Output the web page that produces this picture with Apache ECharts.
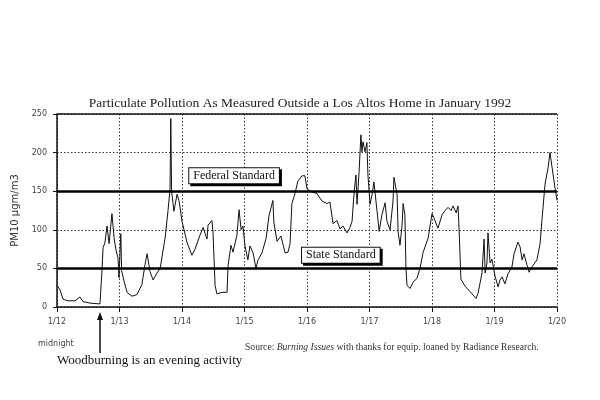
<!DOCTYPE html>
<html>
<head>
<meta charset="utf-8">
<script src="https://cdn.jsdelivr.net/npm/echarts@6/dist/echarts.min.js"></script>
<style>html,body{margin:0;padding:0;background:#fff}#c{width:600px;height:400px}</style>
</head>
<body>
<div id="c"></div>
<script>
// Hours since midnight 1/12
const hours = [0,1.2,2.3,4.2,6.9,8.8,10,12.7,16.5,17.2,17.7,18.4,19.2,20,21.1,21.9,22.7,23.4,23.8,24.5,24.8,25.7,26.9,28.8,30.7,32.6,33.8,34.6,35.7,36.9,38.4,39.6,41.5,42.6,43.4,43.7,44.0,44.9,46.1,46.9,
48,49.9,51.8,53,54.9,56.1,57.6,58,59.5,59.9,60.7,61.4,63.4,65.3,65.7,66.8,67.6,69.1,69.9,70.7,71.4,72.2,73.3,74.1,75.3,76.4,77.2,78.7,80.3,81.4,82.9,83.3,84.5,86,87.6,88.7,89.5,90.2,91.4,92.5,94.1,
95.2,96,97.9,99.8,101.8,103.7,104.8,106,107.5,108.7,109.8,111.4,112.5,113.3,114.1,114.8,115.2,116,116.7,117.1,117.5,118.3,119,119.4,120.2,121,121.7,122.9,123.7,124.8,126,126.7,127.9,129,129.4,130.6,131,131.7,132.5,132.9,133.6,134,134.4,135.6,136.7,138.2,139.4,140.6,142.5,
144,144.8,146.3,147.8,149,150.2,151.3,152.1,153.3,154,154.4,155.1,156.7,158.6,160.9,161.7,163.2,164,164.4,165.1,165.5,166.3,167,168.2,169.4,170.1,170.9,172,173.2,174.7,175.5,177,177.8,178.6,179.3,180.5,181.3,182.4,184.3,185.5,186.3,187.4,188.6,189.3,190.1,191.2,192];
// PM10 readings (ugm/m3)
const pm10 = [28,22,10,8,8,13,7,5,4,43,77,83,105,82,121,90,73,64,38,95,47,34,19,14,16,29,55,69,46,35,44,50,89,124,153,244,150,124,146,137,
111,84,67,75,93,103,88,106,112,97,28,17,19,19,54,80,71,93,126,100,105,79,61,79,70,50,61,70,89,118,138,109,85,92,70,71,82,134,147,163,170,
170,153,149,147,137,134,136,108,112,101,105,96,103,111,149,171,133,175,223,201,214,201,213,171,133,146,162,124,98,120,135,111,100,136,168,145,97,80,106,134,119,50,28,24,32,37,50,71,89,
121,115,102,119,125,129,125,131,122,131,101,36,27,20,11,18,44,88,44,57,96,57,62,40,26,35,39,30,43,52,69,84,78,61,69,54,45,52,61,82,116,159,181,200,181,155,138];
const dayLabels = ['1/12','1/13','1/14','1/15','1/16','1/17','1/18','1/19','1/20'];
const yTicks = [0,50,100,150,200,250];
const federalStandard = 150;
const stateStandard = 50;

const serif = '"Liberation Serif","DejaVu Serif",serif';
const chart = echarts.init(document.getElementById('c'));
chart.setOption({
  backgroundColor: '#fff',
  animation: false,
  title: {
    text: 'Particulate Pollution As Measured Outside a Los Altos Home in January 1992',
    left: 'center', top: 91,
    textStyle: {fontFamily: serif, fontWeight: 'normal', fontSize: 13.5, color: '#222'}
  },
  grid: {left: 57, top: 114, width: 500, height: 193},
  xAxis: {
    type: 'value', min: 0, max: 192, interval: 24,
    axisLine: {lineStyle: {color: '#111', width: 1.5}},
    axisTick: {show: true, length: 5, lineStyle: {color: '#111'}},
    axisLabel: {
      formatter: v => dayLabels[Math.round(v / 24)] || '',
      fontFamily: 'DejaVu Sans', fontSize: 8, color: '#444', margin: 11
    },
    splitLine: {show: true, lineStyle: {type: [1.5, 2], color: '#333', width: 1}}
  },
  yAxis: {
    type: 'value', min: 0, max: 250, interval: 50,
    name: 'PM10 μgm/m3', nameLocation: 'middle', nameGap: 35,
    nameTextStyle: {fontFamily: 'DejaVu Sans', fontSize: 10, color: '#333'},
    axisLine: {show: true, lineStyle: {color: '#111', width: 1.5}},
    axisTick: {show: true, length: 4, lineStyle: {color: '#111'}},
    axisLabel: {
      formatter: v => yTicks.includes(v) ? String(v) : '',
      fontFamily: 'DejaVu Sans', fontSize: 8, color: '#444', margin: 10
    },
    splitLine: {show: true, lineStyle: {type: [1.5, 2], color: '#333', width: 1}}
  },
  series: [{
    type: 'line',
    data: hours.map((h, i) => [h, pm10[i]]),
    symbol: 'none',
    lineStyle: {color: '#111', width: 1},
    markLine: {
      silent: true, symbol: 'none', label: {show: false},
      data: [
        {yAxis: federalStandard, lineStyle: {color: '#000', width: 2.5, type: 'solid'}},
        {yAxis: stateStandard, lineStyle: {color: '#000', width: 2.5, type: 'solid'}},
        {yAxis: 250, lineStyle: {color: '#111', width: 1.5, type: 'solid'}}
      ]
    },
    markPoint: {
      symbol: 'rect', symbolSize: 0, silent: true,
      label: {
        show: true, fontFamily: serif, fontSize: 12, color: '#111',
        backgroundColor: '#fff', borderColor: '#111', borderWidth: 1,
        padding: [2, 4, 1, 4], shadowColor: '#000', shadowOffsetX: 2, shadowOffsetY: 2, shadowBlur: 0
      },
      data: [
        {coord: [68, 170], value: 'Federal Standard', label: {formatter: 'Federal Standard'}},
        {coord: [109, 67], value: 'State Standard', label: {formatter: 'State Standard'}}
      ]
    }
  }],
  graphic: [
    {type: 'text', left: 38, top: 340, style: {text: 'midnight', font: '8px "DejaVu Sans"', fill: '#444'}},
    {type: 'text', left: 245, top: 342, style: {
      text: 'Source: {i|Burning Issues} with thanks for equip. loaned by Radiance Research.',
      font: '9.6px ' + serif, fill: '#333',
      rich: {i: {fontStyle: 'italic', fontFamily: serif, fontSize: 9.6, fill: '#333'}}
    }},
    {type: 'text', left: 57, top: 354, style: {text: 'Woodburning is an evening activity', font: '13px ' + serif, fill: '#111'}},
    {type: 'line', shape: {x1: 100, y1: 353, x2: 100, y2: 318}, style: {stroke: '#111', lineWidth: 1.5}},
    {type: 'polygon', shape: {points: [[100, 312], [97, 320], [103, 320]]}, style: {fill: '#111'}}
  ]
});
</script>
</body>
</html>
